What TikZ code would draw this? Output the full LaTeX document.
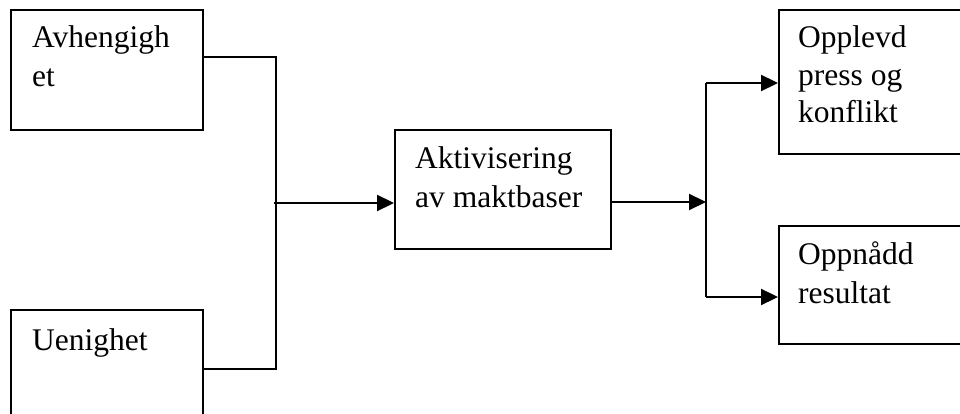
\documentclass[tikz,border=0pt]{standalone}
\usepackage{fontspec}
\setmainfont{Liberation Serif}
\usetikzlibrary{arrows.meta,calc}
\begin{document}
\begin{tikzpicture}[x=1pt,y=-1pt,
  box/.style={draw,line width=2pt,inner sep=0pt,anchor=north west,shape=rectangle},
  lbl/.style={anchor=base west,inner sep=0pt,font=\fontsize{31.5}{39}\selectfont},
  conn/.style={line width=2.2pt},
  arr/.style={conn,-{Triangle[length=17pt,width=16pt]}}]
\useasboundingbox (0,0) rectangle (960,414);
\clip (0,0) rectangle (960,414);
% boxes
\node[box,minimum width=192pt,minimum height=120pt] (A) at (10,9) {};
\node[box,minimum width=192pt,minimum height=130pt] (U) at (10,309) {};
\node[box,minimum width=216pt,minimum height=119pt] (M) at (394,129) {};
\node[box,minimum width=200pt,minimum height=144pt] (O1) at (778,9) {};
\node[box,minimum width=200pt,minimum height=118pt] (O2) at (778,225) {};
% labels
\node[lbl] (tA) at (32,48) {\parbox[t]{200pt}{Avhengigh\\et}};
\node[lbl] (tU) at (32,350) {\parbox[t]{200pt}{Uenighet}};
\node[lbl] (tM) at (415,168) {\parbox[t]{200pt}{Aktivisering\\av maktbaser}};
\node[lbl,font=\fontsize{31.5}{37.5}\selectfont] (tO1) at (798,48) {\parbox[t]{200pt}{Opplevd\\press og\\konflikt}};
\node[lbl] (tO2) at (798,264) {\parbox[t]{200pt}{Oppnådd\\resultat}};
% connectors
\coordinate (j1) at (274,203);
\coordinate (j2) at (706,202);
\coordinate (s1) at (706,83);
\coordinate (s2) at (706,297);
\draw[conn] ($(A.north east)+(0,48)$) -| ($(U.north east)+(72,60)$) -- ($(U.north east)+(0,60)$);
\draw[arr] (j1) -- (M.west |- j1);
\draw[arr] (M.east |- j2) -- (j2);
\draw[conn] (s1) -- (s2);
\draw[arr] (s1) -- (O1.west |- s1);
\draw[arr] (s2) -- (O2.west |- s2);
\end{tikzpicture}
\end{document}
